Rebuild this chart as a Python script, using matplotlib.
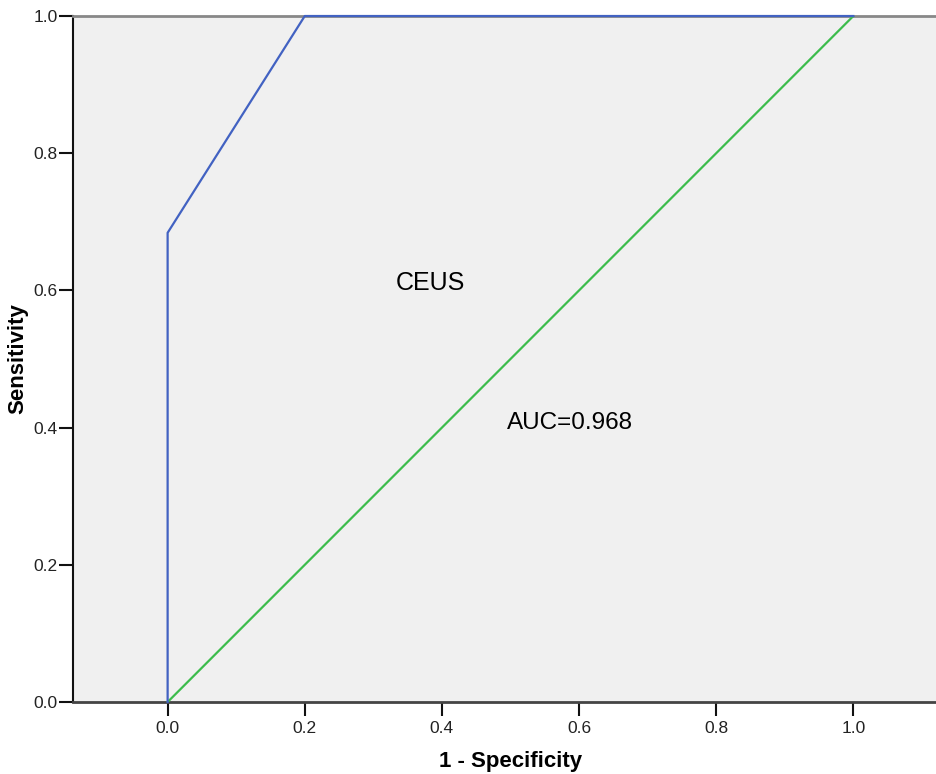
import matplotlib
matplotlib.use('Agg')
import matplotlib.pyplot as plt

# ROC curve points (1 - specificity, sensitivity)
fpr = [0.0, 0.0, 0.2, 1.0]
tpr = [0.0, 0.684, 1.0, 1.0]

# reference diagonal
ref_x = [0.0, 1.0]
ref_y = [0.0, 1.0]

ticks = [0.0, 0.2, 0.4, 0.6, 0.8, 1.0]
tick_labels = ['0.0', '0.2', '0.4', '0.6', '0.8', '1.0']

curve_name = 'CEUS'
auc_text = 'AUC=0.968'

plt.rcParams['font.family'] = ['Liberation Sans', 'DejaVu Sans']

fig = plt.figure(figsize=(9.37, 7.74), dpi=100)
ax = fig.add_axes([0.0779, 0.093, 0.9221, 0.8863])
ax.set_facecolor('#f0f0f0')

ax.plot(ref_x, ref_y, color='#3cbc4c', lw=1.6, zorder=3)
ax.plot(fpr, tpr, color='#4262c2', lw=1.6, zorder=4, clip_on=False)

ax.set_xlim(-0.138, 1.122)
ax.set_ylim(0.0, 1.0)
ax.set_xticks(ticks)
ax.set_xticklabels(tick_labels)
ax.set_yticks(ticks)
ax.set_yticklabels(tick_labels)
ax.tick_params(axis='both', length=10, width=1.5, color='#111111',
               labelsize=12.5, labelcolor='#222222', pad=1)
ax.tick_params(axis='x', pad=4)

ax.spines['right'].set_visible(False)
ax.spines['left'].set_color('#111111')
ax.spines['left'].set_linewidth(1.5)
ax.spines['bottom'].set_color('#444444')
ax.spines['bottom'].set_linewidth(2)
ax.spines['top'].set_color('#888888')
ax.spines['top'].set_linewidth(2)

ax.text(0.383, 0.611, curve_name, fontsize=18, ha='center', va='center')
ax.text(0.587, 0.407, auc_text, fontsize=17.5, ha='center', va='center')

ax.set_xlabel('1 - Specificity', fontsize=16, fontweight='bold', va='center')
ax.set_ylabel('Sensitivity', fontsize=16, fontweight='bold', va='center')
ax.xaxis.set_label_coords(0.507, -0.086)
ax.yaxis.set_label_coords(-0.0637, 0.5)

fig.savefig('out.png', dpi=100)
